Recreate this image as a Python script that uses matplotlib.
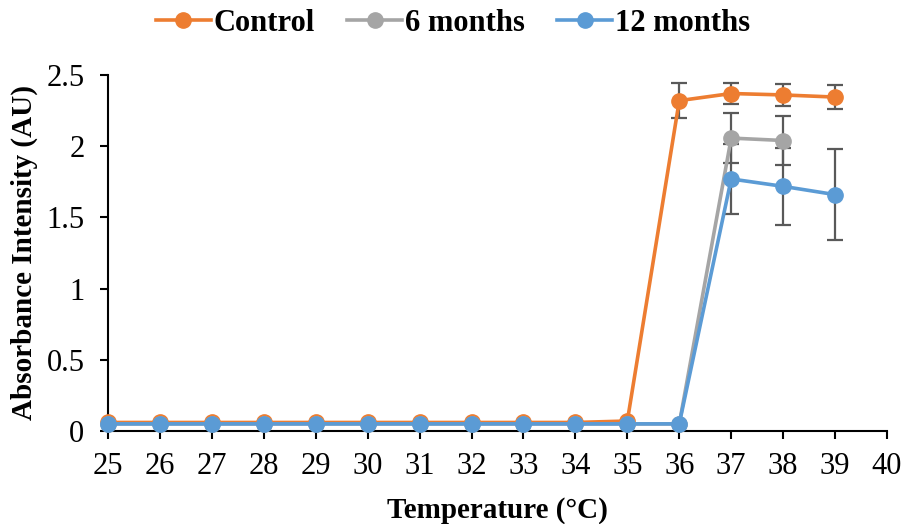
import matplotlib
matplotlib.use("Agg")
import matplotlib.pyplot as plt
import numpy as np

temps = list(range(25, 40))
control = [0.06, 0.06, 0.06, 0.06, 0.06, 0.06, 0.06, 0.06, 0.06, 0.06, 0.07, 2.32, 2.37, 2.36, 2.345]
control_err = [0, 0, 0, 0, 0, 0, 0, 0, 0, 0, 0, 0.125, 0.075, 0.08, 0.085]
six_months = [0.05, 0.05, 0.05, 0.05, 0.05, 0.05, 0.05, 0.05, 0.05, 0.05, 0.05, 0.05, 2.057, 2.04]
six_err = [0, 0, 0, 0, 0, 0, 0, 0, 0, 0, 0, 0, 0.178, 0.175]
twelve_months = [0.05, 0.05, 0.05, 0.05, 0.05, 0.05, 0.05, 0.05, 0.05, 0.05, 0.05, 0.05, 1.77, 1.718, 1.66]
twelve_err = [0, 0, 0, 0, 0, 0, 0, 0, 0, 0, 0, 0, 0.243, 0.268, 0.32]

plt.rcParams['font.family'] = ['Liberation Serif', 'DejaVu Serif']

fig = plt.figure(figsize=(9.06, 5.24), dpi=100)
ax = fig.add_axes([108/906, 1 - 431/524, (887-108)/906, (431-75)/524])

series = [
    ("Control", control, control_err, "#ED7D31"),
    ("6 months", six_months, six_err, "#A5A5A5"),
    ("12 months", twelve_months, twelve_err, "#5B9BD5"),
]
handles = []
for name, vals, errs, col in series:
    x = temps[:len(vals)]
    h, = ax.plot(x, vals, color=col, lw=2.6, marker='o', ms=11, label=name, zorder=3)
    handles.append(h)
    xe = [t for t, e in zip(x, errs) if e > 0]
    ye = [v for v, e in zip(vals, errs) if e > 0]
    ee = [e for e in errs if e > 0]
    ax.errorbar(xe, ye, yerr=ee, fmt='none', ecolor='#595959', elinewidth=1.6,
                capsize=6, capthick=1.6, zorder=2)

ax.set_xlim(25, 40)
ax.set_ylim(0, 2.5)
ax.set_xticks(range(25, 41))
ax.set_yticks([0, 0.5, 1, 1.5, 2, 2.5])
ax.set_yticklabels(['0', '0.5', '1', '1.5', '2', '2.5'])
for s in ['top', 'right']:
    ax.spines[s].set_visible(False)
for s in ['left', 'bottom']:
    ax.spines[s].set_linewidth(1.5)
ax.tick_params(axis='both', direction='out', length=6, width=1.5, labelsize=22, colors='black')
ax.tick_params(axis='x', pad=9)
ax.tick_params(axis='y', pad=11)
ax.set_xlabel('Temperature (°C)', fontsize=21, fontweight='bold', labelpad=12)
ax.set_ylabel('Absorbance Intensity (AU)', fontsize=21, fontweight='bold', labelpad=6)

fig.legend(handles=handles, loc='upper center', bbox_to_anchor=(0.5, 1.035), ncol=3, frameon=False,
           prop={'size': 22, 'weight': 'bold'}, handlelength=1.8, columnspacing=1.05, handletextpad=0.1)

for l in ax.lines:
    l.set_clip_on(False)

fig.savefig('out.png', dpi=100)
